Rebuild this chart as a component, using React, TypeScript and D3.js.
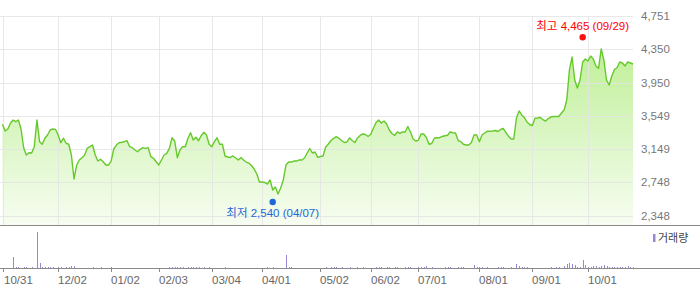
import React from "react";
import * as d3 from "d3";

const prices: number[] = [
  3447, 3366, 3390, 3459, 3498, 3478, 3498, 3390, 3161, 3077,
  3104, 3101, 3177, 3498, 3237, 3206, 3278, 3318, 3378, 3390,
  3386, 3318, 3225, 3278, 3218, 3206, 3077, 2788, 2956, 3017,
  3044, 3077, 3157, 3177, 3197, 3077, 3004, 3025, 2996, 2956,
  2956, 3004, 3149, 3197, 3225, 3230, 3237, 3249, 3177, 3165,
  3137, 3116, 3145, 3165, 3157, 3165, 3056, 3037, 2996, 2956,
  3017, 3077, 3097, 3157, 3285, 3245, 3044, 3137, 3177, 3177,
  3278, 3345, 3257, 3290, 3249, 3309, 3350, 3318, 3206, 3177,
  3237, 3285, 3206, 3206, 3065, 3053, 3047, 3065, 3041, 3017,
  3047, 3017, 2992, 2980, 2950, 2908, 2848, 2752, 2752, 2746,
  2727, 2776, 2655, 2691, 2607, 2679, 2776, 2956, 2992, 2992,
  3004, 3004, 3017, 3017, 3041, 3101, 3155, 3101, 3113, 3047,
  3059, 3065, 3173, 3209, 3251, 3278, 3297, 3278, 3251, 3227,
  3233, 3282, 3251, 3227, 3282, 3312, 3330, 3324, 3300, 3326,
  3398, 3468, 3498, 3462, 3486, 3450, 3378, 3336, 3312, 3354,
  3336, 3354, 3354, 3420, 3354, 3269, 3245, 3257, 3330, 3330,
  3288, 3206, 3215, 3278, 3284, 3285, 3300, 3309, 3314, 3354,
  3345, 3342, 3251, 3237, 3206, 3197, 3197, 3227, 3318, 3318,
  3237, 3318, 3342, 3362, 3363, 3366, 3372, 3360, 3384, 3396,
  3348, 3303, 3269, 3269, 3522, 3607, 3559, 3528, 3474, 3444,
  3432, 3519, 3522, 3528, 3504, 3486, 3516, 3534, 3540, 3540,
  3540, 3583, 3619, 3739, 4101, 4257, 3980, 3884, 3980, 4197,
  4233, 4209, 4269, 4233, 4149, 4121, 4354, 4221, 3980, 3920,
  4028, 4107, 4131, 4197, 4185, 4149, 4197, 4185, 4173,
];

const volumes: number[] = [
  30, 20, 40, 30, 1100, 110, 100, 30, 120, 100,
  40, 110, 40, 3600, 520, 110, 100, 120, 100, 110,
  30, 100, 110, 40, 100, 120, 220, 200, 30, 40,
  30, 20, 30, 40, 100, 30, 20, 110, 30, 20,
  30, 120, 40, 30, 20, 30, 20, 30, 40, 20,
  30, 20, 30, 20, 30, 40, 30, 20, 30, 20,
  30, 40, 30, 110, 100, 120, 100, 110, 100, 30,
  110, 100, 120, 100, 110, 40, 100, 30, 110, 30,
  20, 30, 40, 30, 110, 30, 20, 30, 40, 30,
  20, 30, 40, 30, 20, 30, 40, 30, 20, 30,
  110, 40, 100, 30, 40, 30, 40, 1300, 110, 100,
  30, 20, 30, 40, 30, 20, 30, 40, 30, 20,
  30, 40, 100, 30, 110, 100, 120, 30, 100, 40,
  30, 110, 40, 30, 100, 30, 110, 40, 30, 20,
  30, 110, 100, 120, 40, 100, 110, 30, 100, 120,
  30, 40, 110, 100, 120, 30, 40, 100, 110, 100,
  220, 30, 110, 40, 30, 20, 30, 100, 110, 100,
  30, 40, 110, 100, 120, 30, 40, 30, 320, 110,
  100, 120, 30, 110, 40, 30, 20, 110, 100, 120,
  30, 40, 110, 30, 420, 210, 110, 100, 120, 30,
  40, 30, 20, 30, 40, 30, 20, 110, 30, 100,
  120, 40, 210, 420, 520, 400, 310, 110, 120, 820,
  310, 110, 120, 210, 200, 110, 220, 300, 210, 110,
  120, 100, 110, 120, 100, 110, 210, 120, 110,
];

const tickLabels: string[] = ["10/31", "12/02", "01/02", "02/03", "03/04", "04/01", "05/02", "06/02", "07/01", "08/01", "09/01", "10/01"];
const tickIndex: number[] = [0, 21, 41, 59, 79, 98, 120, 139, 157, 180, 200, 221];
const yTicks: number[] = [2348, 2748, 3149, 3549, 3950, 4350, 4751];

const maxIdx = 219;
const maxVal = 4465;
const maxDate = "09/29";
const minIdx = 102;
const minVal = 2540;
const minDate = "04/07";

const W = 700;
const H = 289;
const PLOT_L = 2.5;
const PLOT_R = 633;
const PRICE_TOP = 16;
const PRICE_BOT = 215.5;
const PANE_BOT = 225;
const VOL_BASE = 268;
const VOL_TOP = 232;

const fmt = d3.format(",");

export default function App() {
  const x = d3.scaleLinear().domain([0, prices.length - 1]).range([PLOT_L, PLOT_R]);
  const y = d3.scaleLinear().domain([2348, 4751]).range([PRICE_BOT, PRICE_TOP]);
  const yv = d3.scaleLinear().domain([0, d3.max(volumes) as number]).range([VOL_BASE, VOL_TOP]);

  const area = d3
    .area<number>()
    .x((_, i) => x(i))
    .y0(PANE_BOT)
    .y1((d) => y(d));
  const line = d3
    .line<number>()
    .x((_, i) => x(i))
    .y((d) => y(d));

  const numFont = "'Liberation Sans', Arial, sans-serif";
  const krFont = "'Liberation Sans', 'Noto Sans CJK KR', sans-serif";

  const maxX = x(maxIdx);
  const maxY = y(maxVal) - 2.5;
  const minX = x(minIdx);
  const minY = y(minVal) + 2.5;

  return (
    <svg
      width={W}
      height={H}
      style={{ position: "absolute", left: 0, top: 0, background: "#fff" }}
    >
      <defs>
        <linearGradient id="areaGrad" gradientUnits="userSpaceOnUse" x1="0" y1="40" x2="0" y2={PANE_BOT}>
          <stop offset="0" stopColor="#bdef94" />
          <stop offset="1" stopColor="#f7fdf2" />
        </linearGradient>
      </defs>

      <path d={area(prices) as string} fill="url(#areaGrad)" />

      {/* horizontal grid */}
      {yTicks.map((t) => (
        <line
          key={"h" + t}
          x1={0}
          x2={PLOT_R}
          y1={Math.round(y(t)) + 0.5}
          y2={Math.round(y(t)) + 0.5}
          stroke="#e4e4e4"
          strokeOpacity={0.85}
        />
      ))}
      {/* vertical grid */}
      {tickIndex.map((ti) => (
        <line
          key={"v" + ti}
          x1={Math.round(x(ti)) + 0.5}
          x2={Math.round(x(ti)) + 0.5}
          y1={PRICE_TOP}
          y2={PANE_BOT}
          stroke="#e4e4e4"
          strokeOpacity={0.85}
        />
      ))}

      <path d={line(prices) as string} fill="none" stroke="#66c92a" strokeWidth={1.4} strokeLinejoin="round" />

      {/* y labels */}
      {yTicks.map((t) => (
        <text
          key={"yl" + t}
          x={641}
          y={y(t)}
          dy="0.35em"
          fontSize={11.5}
          fontFamily={numFont}
          fill="#777"
        >
          {fmt(t)}
        </text>
      ))}

      {/* pane separators */}
      <line x1={0} x2={W} y1={PANE_BOT + 0.5} y2={PANE_BOT + 0.5} stroke="#8a8a8a" />
      <line x1={0} x2={W} y1={VOL_BASE + 0.5} y2={VOL_BASE + 0.5} stroke="#8a8a8a" />

      {/* volume bars */}
      {volumes.map((v, i) => {
        const h = Math.round(VOL_BASE - yv(v));
        if (h <= 0) return null;
        return (
          <rect
            key={"vb" + i}
            x={Math.round(x(i))}
            y={VOL_BASE - h}
            width={1}
            height={h}
            fill="#9a86d2"
            shapeRendering="crispEdges"
          />
        );
      })}

      {/* x ticks */}
      {tickIndex.map((ti, k) => (
        <g key={"xt" + ti}>
          <line
            x1={Math.round(x(ti)) + 0.5}
            x2={Math.round(x(ti)) + 0.5}
            y1={VOL_BASE}
            y2={VOL_BASE + 4}
            stroke="#8a8a8a"
          />
          <text
            x={Math.max(4, Math.round(x(ti)))}
            y={284}
            fontSize={11.5}
            fontFamily={numFont}
            fill="#666"
          >
            {tickLabels[k]}
          </text>
        </g>
      ))}

      {/* legend */}
      <rect x={653} y={234} width={2.5} height={8} fill="#9a86d2" />
      <text x={658} y={242} fontSize={11} fontFamily={krFont} fill="#444">
        거래량
      </text>

      {/* max marker */}
      <circle cx={maxX} cy={maxY} r={3.2} fill="#ff1010" />
      <text
        x={maxX}
        y={maxY - 7}
        textAnchor="middle"
        fontSize={11.5}
        fontFamily={krFont}
        fill="#ff0000"
      >
        {`최고 ${fmt(maxVal)} (${maxDate})`}
      </text>

      {/* min marker */}
      <circle cx={minX} cy={minY} r={3.2} fill="#1f66d8" />
      <text
        x={minX}
        y={minY + 14.5}
        textAnchor="middle"
        fontSize={11.5}
        fontFamily={krFont}
        fill="#1f66d8"
      >
        {`최저 ${fmt(minVal)} (${minDate})`}
      </text>
    </svg>
  );
}
